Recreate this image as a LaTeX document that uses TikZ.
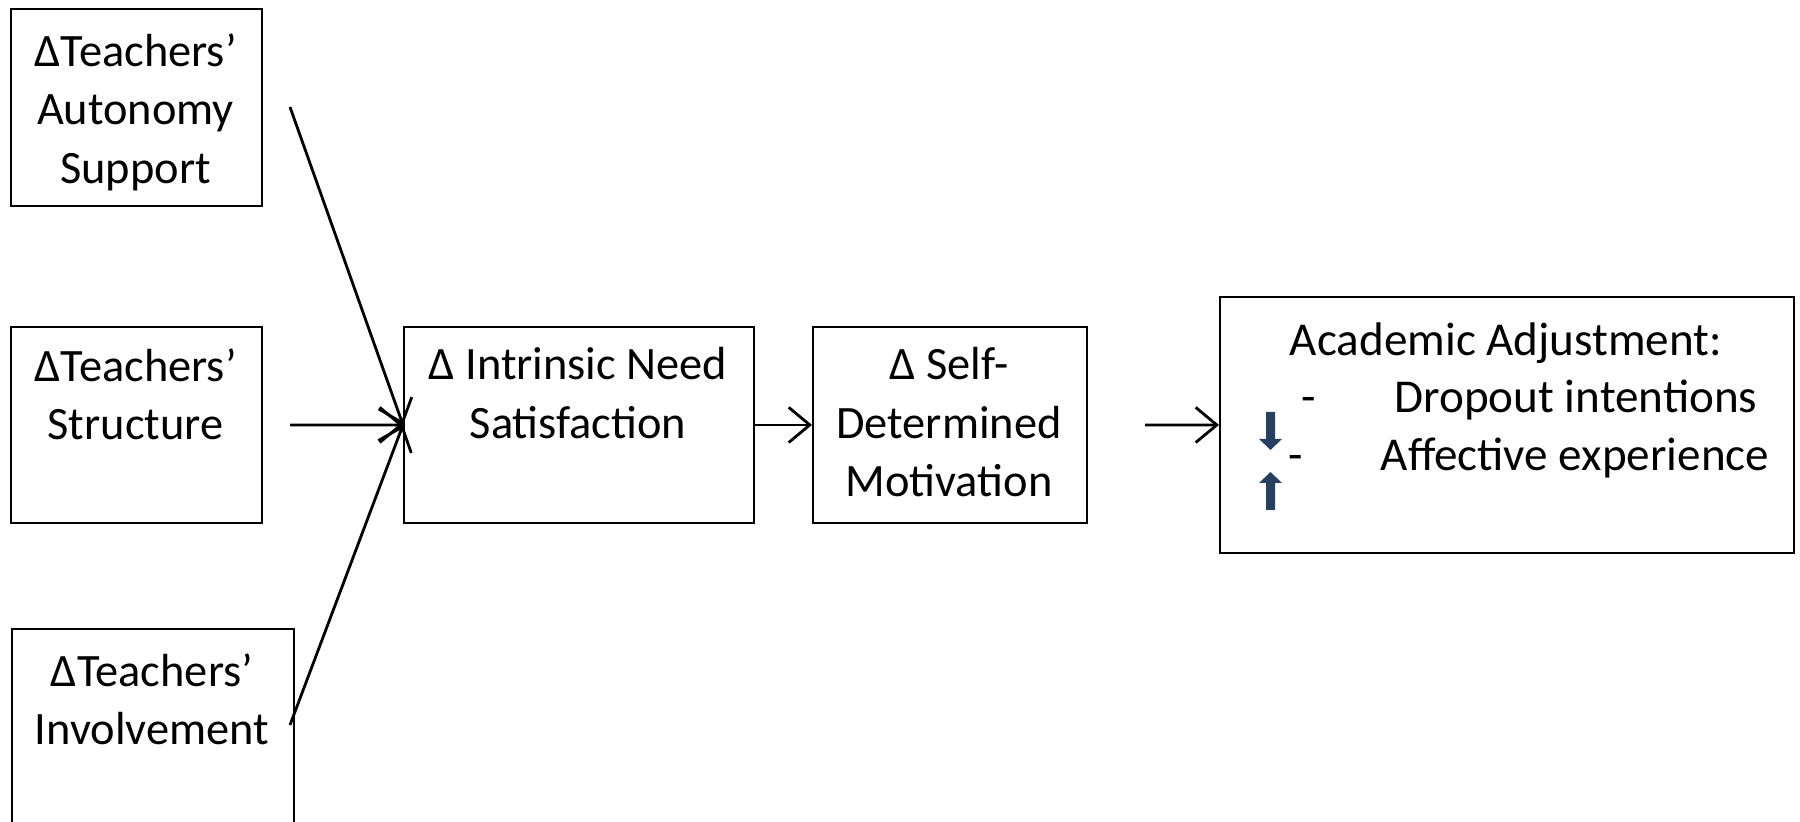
\documentclass[tikz,border=0pt]{standalone}
\usepackage{fontspec}
\setmainfont{Carlito}
\usetikzlibrary{arrows.meta}
\definecolor{navy}{HTML}{254061}
\tikzset{
  box/.style={draw=black, line width=0.5pt, anchor=north west, inner sep=0pt},
  lbl/.style={font=\fontsize{13.2}{16.6}\selectfont, align=center, anchor=north, inner sep=0pt},
  item/.style={font=\fontsize{13.4}{16}\selectfont, inner sep=0pt},
  link/.style={-{Straight Barb[length=6pt,width=10pt]}, line width=0.8pt}
}
\begin{document}
\begin{tikzpicture}[x=0.01cm, y=-0.01cm]
  \useasboundingbox (0,0) rectangle (1800,822);

  % left column of teacher changes
  \node[box, minimum width=2.51cm, minimum height=1.97cm] (aut) at (10,8) {};
  \node[box, minimum width=2.51cm, minimum height=1.96cm] (str) at (10,326) {};
  \node[box, minimum width=2.82cm, minimum height=2.2cm] (inv) at (11,628) {};
  \node[lbl] (autT) at (135.5,33) {ΔTeachers’\\Autonomy\\Support};
  \node[lbl] (strT) at (135.5,348) {ΔTeachers’\\Structure};
  \node[lbl] (invT) at (152,653) {ΔTeachers’\\Involvement};

  % mediators
  \node[box, minimum width=3.5cm, minimum height=1.96cm] (nee) at (403,326) {};
  \node[box, minimum width=2.74cm, minimum height=1.96cm] (mot) at (812,326) {};
  \node[lbl] (neeT) at (578,347) {Δ Intrinsic Need\\Satisfaction};
  \node[lbl] (motT) at (949,347) {Δ Self-\\Determined\\Motivation};

  % outcome
  \node[box, minimum width=5.74cm, minimum height=2.56cm] (adj) at (1219,296) {};
  \node[item, anchor=base] (adjT) at (1506,356) {Academic Adjustment:};
  \node[item, anchor=base] (dashA) at (1309,413) {-};
  \node[item, anchor=base] (dashB) at (1296,471) {-};
  \node[item, anchor=base west] (drop) at (1394,413) {Dropout intentions};
  \node[item, anchor=base west] (affe) at (1380,471) {Affective experience};
  \fill[navy] (1266,412) -- (1275,412) -- (1275,439) -- (1282,439) -- (1270.5,450) -- (1259,439) -- (1266,439) -- cycle;
  \fill[navy] (1266,510) -- (1275,510) -- (1275,483) -- (1282,483) -- (1270.5,472) -- (1259,483) -- (1266,483) -- cycle;

  % connectors
  \coordinate (autE) at (290,107);
  \coordinate (strE) at (290,425);
  \coordinate (invE) at (290,725);
  \coordinate (motE) at (1145,425);
  \draw[link] (autE) -- (nee.west);
  \draw[link] (strE) -- (nee.west);
  \draw[link] (invE) -- (nee.west);
  \draw[link] (nee.east) -- (mot.west);
  \draw[link] (motE) -- (adj.west);
\end{tikzpicture}
\end{document}
